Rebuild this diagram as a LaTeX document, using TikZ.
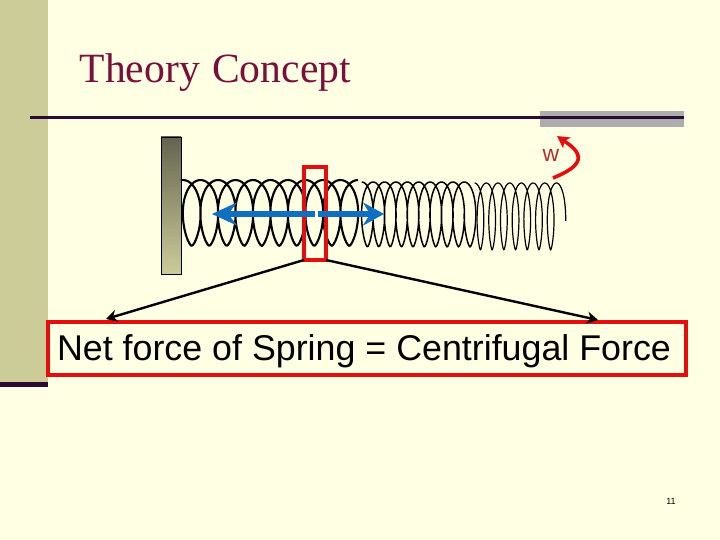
\documentclass[tikz,border=0pt]{standalone}
\usepackage{fontspec}
\setmainfont{Liberation Sans}
\newfontfamily\titlefont{Liberation Serif}
\usetikzlibrary{arrows.meta}
\definecolor{bgc}{HTML}{FFFFE3}
\definecolor{bandc}{HTML}{CCCC99}
\definecolor{darkline}{HTML}{2B0A33}
\definecolor{titlec}{HTML}{7A0F3D}
\definecolor{boxred}{HTML}{E60D0D}
\definecolor{bluearrow}{HTML}{0F6FC0}
\definecolor{wallc}{HTML}{64644E}
\definecolor{greyc}{HTML}{ADADAD}
\definecolor{wc}{HTML}{B03030}
\tikzset{
  coil/.style={black,line join=round,smooth},
  redbox/.style={draw=boxred,line width=4pt,outer sep=0pt,inner sep=0pt},
  leader/.style={black,line width=2.4pt,-{Stealth[length=11pt,width=12pt,inset=3.5pt]}},
  force/.style={bluearrow,line width=6.5pt,-{Stealth[length=25pt,width=23pt,inset=9pt]}}
}
\begin{document}
\begin{tikzpicture}[x=1pt,y=-1pt]
\useasboundingbox (0,0) rectangle (720,540);
\fill[bgc] (0,0) rectangle (720,540);
\fill[bandc] (0,0) rectangle (47.5,382);
\fill[darkline] (0,382) rectangle (47.5,386.5);
\fill[greyc] (540,111) rectangle (684,127);
\coordinate (ruleL) at (30,117.5);
\coordinate (ruleR) at (684,117.5);
\draw[darkline,line width=3pt] (ruleL) -- (ruleR);
\node[anchor=base west,inner sep=0,font=\titlefont\fontsize{41.6}{42}\selectfont,text=titlec] (title) at (79.5,83) {Theory\hspace{2pt} Concept};
% wall
\draw[black,line width=0.7pt,top color=wallc,bottom color=bandc] (161,137) rectangle (181,274);
% spring
\draw[coil,line width=2.1pt] plot[samples=400,domain=-8:3600] ({183+(\x/360)*17.5+13*sin(\x)},{246-66*abs(cos(\x/2))*sqrt(abs(cos(\x/2)))});
\draw[coil,line width=1.5pt] plot[samples=400,domain=0:3500] ({361.7+(\x/360)*11.4+8.5*sin(\x)},{247-65*abs(cos(\x/2))*sqrt(abs(cos(\x/2)))});
\draw[coil,line width=1.2pt] plot[samples=400,domain=0:2630] ({474.6+(\x/360)*11.7+6*sin(\x)},{250-67*abs(cos(\x/2))*sqrt(abs(cos(\x/2)))});
% red window and forces
\node[redbox,minimum width=22pt,minimum height=93pt,anchor=north west] (win) at (304,167) {};
\coordinate (fc1) at (315,214);
\coordinate (fc2) at (318,214);
\coordinate (fl) at (212,214);
\coordinate (fr) at (384,214);
\draw[force] (fc1) -- (fl);
\draw[force,-{Stealth[length=21pt,width=23pt,inset=7pt]}] (fc2) -- (fr);
% result box
\node[redbox,minimum width=638pt,minimum height=53pt,anchor=north west] (res) at (48,322) {};
\node[anchor=base,inner sep=0,font=\fontsize{35.8}{36}\selectfont,text=black] (restext) at (364,360.3) {Net force of Spring = Centrifugal Force};
\coordinate (la) at (106,319);
\coordinate (ra) at (598,320);
\draw[leader] (win.south west) -- (la);
\draw[leader] (win.south east) -- (ra);
% omega
\node[inner sep=0,font=\fontsize{23}{23}\selectfont,text=wc] (w) at (551,155) {w};
\coordinate (ws) at (553,178);
\coordinate (we) at (557,136);
\draw[boxred,line width=3.6pt,-{Stealth[length=12pt,width=13pt,inset=3pt]}] (ws) .. controls (570,171) and (592,160) .. (567,143) -- (we);
\node[inner sep=0,font=\fontsize{9}{9}\selectfont] (pg) at (671,501) {11};
\end{tikzpicture}
\end{document}
